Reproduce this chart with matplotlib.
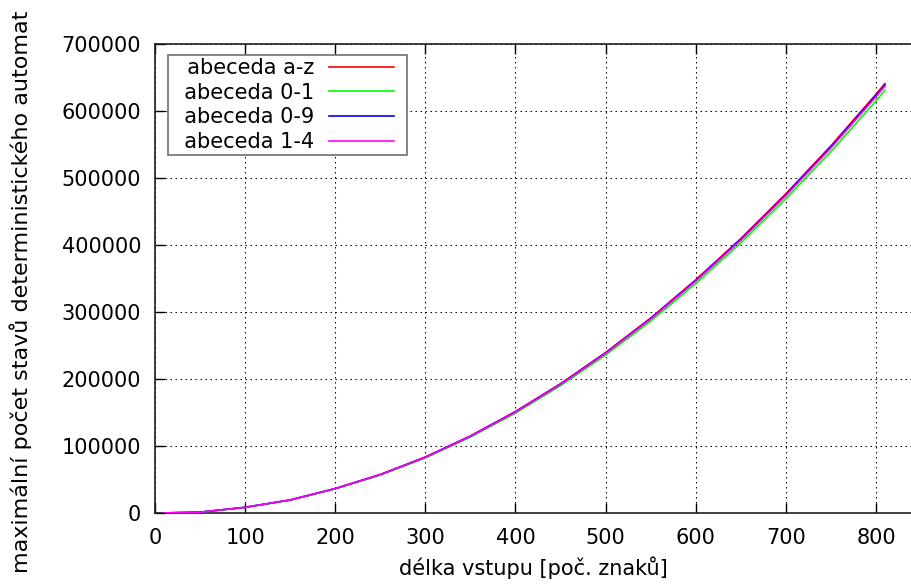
import matplotlib
matplotlib.use('Agg')
import matplotlib.pyplot as plt
import matplotlib.ticker as mticker
from matplotlib.legend_handler import HandlerLine2D
from matplotlib.lines import Line2D

plt.rcParams.update({
    'font.family': 'DejaVu Sans',
    'font.size': 15,
})

# délka vstupu (x) a maximální počet stavů pro jednotlivé abecedy
x_len = [10, 50, 100, 150, 200, 250, 300, 350, 400, 450, 500,
         550, 600, 650, 700, 750, 800, 810]
states_az = [90, 1250, 8500, 19500, 36500, 57500, 83500, 115000, 151500, 193000,
             239500, 291000, 348000, 409500, 476500, 548000, 625000, 641000]
states_01 = [85, 1230, 8350, 19200, 35900, 56600, 82200, 113200, 149000, 190000,
             235700, 286300, 342400, 403000, 469000, 539300, 615000, 631000]
states_09 = [90, 1245, 8480, 19450, 36400, 57300, 83300, 114700, 151000, 192400,
             238800, 290100, 347000, 408300, 475100, 546400, 623100, 639000]
states_14 = [89, 1240, 8450, 19400, 36300, 57150, 83000, 114300, 150600, 191800,
             238100, 289300, 345900, 407000, 473600, 544700, 621300, 637200]

SERIES = [
    ('abeceda a-z', states_az, '#ff0000'),
    ('abeceda 0-1', states_01, '#00ff00'),
    ('abeceda 0-9', states_09, '#0000ff'),
    ('abeceda 1-4', states_14, '#ff00ff'),
]

fig = plt.figure(figsize=(9.12, 5.88), dpi=100)
ax = fig.add_axes([155 / 912, 75 / 588, 1 - 155 / 912, 469 / 588])

for label, vals, color in SERIES:
    # leading spaces widen the (right-aligned) key box like gnuplot's
    ax.plot(x_len, vals, color=color, linewidth=1.2, label='  ' + label, zorder=3)

ax.set_xlim(0, 840)
ax.set_ylim(0, 700000)
ax.xaxis.set_major_locator(mticker.MultipleLocator(100))
ax.yaxis.set_major_locator(mticker.MultipleLocator(100000))

ax.grid(True, color='black', linewidth=0.75, linestyle=(0, (1.4, 3.4)), zorder=1)
for side in ('left', 'bottom', 'top'):
    ax.spines[side].set_linewidth(1.2)
    ax.spines[side].set_color('#202020')
ax.spines['right'].set_visible(False)
ax.tick_params(direction='in', length=7.5, width=1.0, top=True, right=False,
               labelsize=15, colors='black')
ax.tick_params(axis='x', pad=11)
ax.tick_params(axis='y', pad=10)

ax.set_xlabel('délka vstupu [poč. znaků]', fontsize=15, labelpad=5.5)
fig.text(21 / 912, 296.5 / 588, 'maximální počet stavů deterministického automat',
         rotation=90, ha='center', va='center', fontsize=16)

leg = ax.legend(loc='upper left', bbox_to_anchor=(0.017, 0.977), borderaxespad=0,
                markerfirst=False, fancybox=False, framealpha=1, edgecolor='#707070',
                numpoints=2, handlelength=4.02, handletextpad=0.27, labelspacing=0.23,
                borderpad=0.15, fontsize=15,
                handler_map={Line2D: HandlerLine2D(marker_pad=0.45)})
leg.get_frame().set_linewidth(1.2)

fig.savefig('out.png', dpi=100)
